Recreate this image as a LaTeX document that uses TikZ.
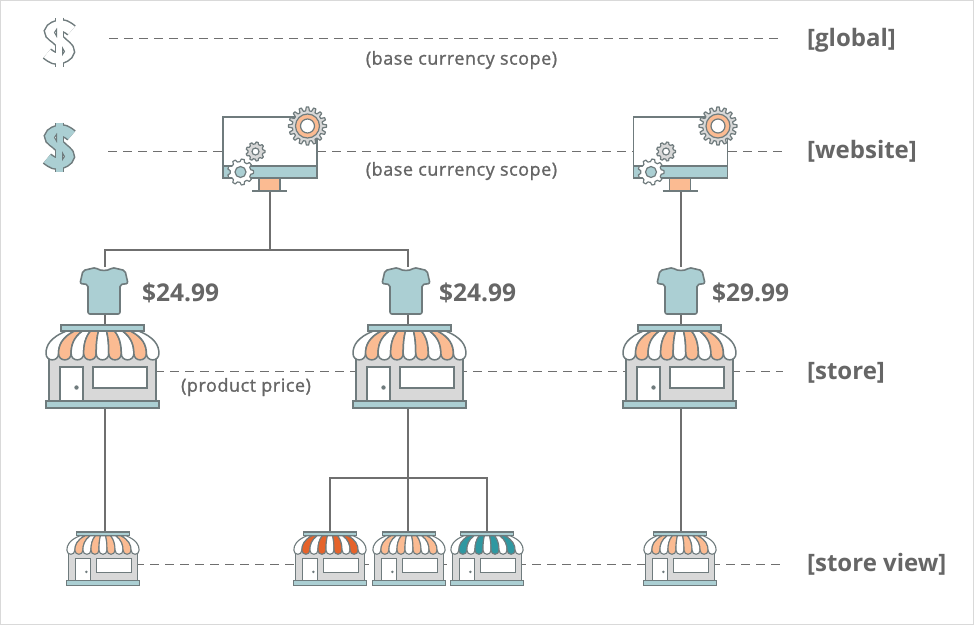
\documentclass[tikz,border=0pt]{standalone}
\usepackage{fontspec}
\setmainfont{Open Sans}
\newfontfamily\notefont[LetterSpace=3,FakeBold=1.2]{Open Sans}
\usetikzlibrary{positioning,calc}

\definecolor{linegray}{HTML}{6F6F6F}
\definecolor{iconline}{HTML}{6F7B7D}
\definecolor{textgray}{HTML}{666666}
\definecolor{tealpale}{HTML}{ABCFD3}
\definecolor{peach}{HTML}{FBBB92}
\definecolor{rust}{HTML}{E5632B}
\definecolor{teal}{HTML}{2F98A1}
\definecolor{wallgray}{HTML}{D8D8D8}

\tikzset{
  wire/.style={draw=linegray, line width=1.3pt},
  dashwire/.style={draw=linegray, line width=1pt, dash pattern=on 9pt off 6pt},
  holder/.style={inner sep=0pt, outer sep=0pt},
  levellabel/.style={font=\fontsize{24}{26}\selectfont\bfseries, text=textgray, anchor=west, inner sep=0pt},
  pricelabel/.style={font=\fontsize{24.5}{28}\selectfont\bfseries, text=textgray, anchor=west, inner sep=0pt},
  notelabel/.style={font=\fontsize{18}{21}\notefont, text=textgray, inner sep=0pt},
  pics/store/.style={code={
    \draw[fill=wallgray, draw=iconline] (-53.5,-12) rectangle (53.5,36);
    \draw[fill=white, draw=iconline] (-42.5,0.5) rectangle (-19.5,36);
    \fill[iconline] (-26,21) circle (2.2);
    \draw[fill=white, draw=iconline] (-9.5,0.5) rectangle (44.5,21.5);
    \draw[fill=tealpale, draw=iconline] (-56.5,34.5) rectangle (56.5,41.5);
    \draw[fill=tealpale, draw=iconline] (-41.5,-41.5) rectangle (41.5,-35.5);
    \foreach \i in {0,...,8}{
      \ifodd\i\def\stripe{#1}\else\def\stripe{white}\fi
      \pgfmathsetmacro{\ta}{-36+8*\i}
      \pgfmathsetmacro{\tb}{-36+8*(\i+1)}
      \pgfmathsetmacro{\ba}{-56.5+12.55*\i}
      \pgfmathsetmacro{\bb}{-56.5+12.55*(\i+1)}
      \draw[fill=\stripe, draw=iconline, line join=round]
        (\ta,-35.5) .. controls ({\ta+.8*(\ba-\ta)},-29) and (\ba,-21) .. (\ba,-13)
        .. controls (\ba,-4.5) and (\bb,-4.5) .. (\bb,-13)
        .. controls (\bb,-21) and ({\tb+.8*(\bb-\tb)},-29) .. (\tb,-35.5) -- cycle;
    }
  }},
  pics/shirt/.style={code={
    \draw[fill=tealpale, draw=iconline, line width=1.6pt, line join=round, rounded corners=2pt]
      (-8,-23) .. controls (-4,-19.5) and (4,-19.5) .. (8,-23) -- (21,-20) -- (24,-7)
      -- (16,-6) -- (16,23.5) -- (-16,23.5) -- (-16,-6) -- (-24,-7) -- (-21,-20) -- cycle;
  }},
  pics/gear/.style n args={3}{code={
    \pgfmathsetmacro{\gs}{360/#1}
    \draw[fill=#2, draw=iconline, line width=1.2pt, line join=round] (-.32*\gs:.8*#3)
      \foreach \a in {0,\gs,...,359.9}{
        -- ({\a-.32*\gs}:{.8*#3}) -- ({\a-.16*\gs}:#3) -- ({\a+.16*\gs}:#3) -- ({\a+.32*\gs}:{.8*#3})
      } -- cycle;
  }},
  pics/monitor/.style={code={
    \draw[fill=peach, draw=iconline, line width=1.5pt] (-11,24) rectangle (10,37);
    \draw[draw=iconline, line width=1.5pt] (-18,37) -- (17,37);
    \draw[fill=white, draw=iconline, line width=1.5pt] (-47,-37) rectangle (47,24);
    \draw[fill=tealpale, draw=iconline, line width=1.5pt] (-47,12) rectangle (47,24);
    \pic at (37.5,-28) {gear={16}{wallgray}{19}};
    \draw[fill=peach, draw=iconline, line width=1.2pt] (37.5,-28) circle (12);
    \draw[fill=white, draw=iconline, line width=1.2pt] (37.5,-28) circle (7);
    \pic at (-14.5,-2.5) {gear={9}{wallgray}{9.5}};
    \draw[fill=white, draw=iconline, line width=1.2pt] (-14.5,-2.5) circle (3.5);
    \pic at (-29.5,18) {gear={9}{white}{13}};
    \draw[fill=tealpale, draw=iconline, line width=1.2pt] (-29.5,18) circle (5.5);
  }},
  pics/dollar/.style={code={
    \foreach \w/\c in {13/iconline,10/#1}{
      \draw[draw=\c, line width=\w pt] plot[smooth, tension=.75] coordinates
        {(12,-11.5) (2,-16.5) (-9,-10.5) (0,-1) (9,9.5) (-2,16.5) (-12.5,11.5)};
      \draw[draw=\c, line width=.65*\w pt] (0,-24.5) -- (0,24.5);
    }
    \draw[fill=white, draw=iconline, line width=1pt] (-5,-9.5) -- (-3,-12.5) -- (-3,-6) -- cycle;
    \draw[fill=white, draw=iconline, line width=1pt] (5,9.5) -- (3,12.5) -- (3,6) -- cycle;
  }}
}

\begin{document}
\begin{tikzpicture}[x=1pt, y=-1pt]
  \useasboundingbox (0,0) rectangle (974,625);
  \fill[white] (0,0) rectangle (974,625);
  \draw[gray!30, line width=1pt] (.5,.5) rectangle (973.5,624.5);

  % holders for the icons
  \node[holder, minimum width=94pt, minimum height=74pt] (monA) at (270,154) {};
  \node[holder, minimum width=94pt, minimum height=74pt] (monB) at (681,154) {};
  \node[holder, minimum width=48pt, minimum height=47pt] (shirtA) at (105,290.5) {};
  \node[holder, minimum width=48pt, minimum height=47pt] (shirtB) at (408,290.5) {};
  \node[holder, minimum width=48pt, minimum height=47pt] (shirtC) at (681,290.5) {};
  \node[holder, minimum width=100pt, minimum height=83pt] (storeA) at (105,366.5) {};
  \node[holder, minimum width=100pt, minimum height=83pt] (storeB) at (408,366.5) {};
  \node[holder, minimum width=100pt, minimum height=83pt] (storeC) at (681,366.5) {};
  \node[holder, minimum width=60pt, minimum height=53pt] (viewA) at (105,558.5) {};
  \node[holder, minimum width=60pt, minimum height=53pt] (viewB) at (330,558.5) {};
  \node[holder, minimum width=60pt, minimum height=53pt] (viewC) at (408,558.5) {};
  \node[holder, minimum width=60pt, minimum height=53pt] (viewD) at (487,558.5) {};
  \node[holder, minimum width=60pt, minimum height=53pt] (viewE) at (681,558.5) {};

  \node[levellabel] (global) at (807,40) {[global]};
  \node[levellabel] (website) at (807,151) {[website]};
  \node[levellabel] (store) at (807,373) {[store]};
  \node[levellabel] (view) at (807,564) {[store view]};

  \coordinate (busA) at (270,250);
  \coordinate (busB) at (408,478);
  \coordinate (rowGlobal) at (109,38);
  \coordinate (endGlobal) at (783,38);
  \coordinate (rowWeb) at (108,151);
  \coordinate (endWeb) at (783,151);
  \coordinate (rowStore) at (783,371.5);
  \coordinate (rowView) at (783,564);

  % tree
  \draw[wire] (monA.south) -- (busA);
  \draw[wire] (shirtA.north) |- (busA) -| (shirtB.north);
  \draw[wire] (shirtA) -- (storeA);
  \draw[wire] (shirtB) -- (storeB);
  \draw[wire] (monB.south) -- (shirtC.north);
  \draw[wire] (shirtC) -- (storeC);
  \draw[wire] (storeA) -- (viewA);
  \draw[wire] (storeB) -- (viewC);
  \draw[wire] (storeC) -- (viewE);
  \draw[wire] (viewB.north) |- (busB) -| (viewD.north);

  % levels
  \draw[dashwire] (rowGlobal) -- (endGlobal);
  \draw[dashwire] (rowWeb) -- (monA.west |- rowWeb);
  \draw[dashwire] (monA.east |- rowWeb) -- (monB.west |- rowWeb);
  \draw[dashwire] (monB.east |- rowWeb) -- (endWeb);
  \draw[dashwire] (storeA.east |- rowStore) -- (storeB.west |- rowStore);
  \draw[dashwire] (storeB.east |- rowStore) -- (storeC.west |- rowStore);
  \draw[dashwire] (storeC.east |- rowStore) -- (rowStore);
  \draw[dashwire] (viewA.east |- rowView) -- (viewB.west |- rowView);
  \draw[dashwire] (viewB.east |- rowView) -- (viewC.west |- rowView);
  \draw[dashwire] (viewC.east |- rowView) -- (viewD.west |- rowView);
  \draw[dashwire] (viewD.east |- rowView) -- (viewE.west |- rowView);
  \draw[dashwire] (viewE.east |- rowView) -- (rowView);

  % icons
  \pic at (59.5,42) {dollar=white};
  \pic at (59.5,147) {dollar=tealpale};
  \pic at (270,154) {monitor};
  \pic at (680.5,154) {monitor};
  \pic at (104,290.5) {shirt};
  \pic at (406,290.5) {shirt};
  \pic at (681,290.5) {shirt};
  \pic[line width=1.5pt] at (102.5,366.5) {store=peach};
  \pic[line width=1.5pt] at (409.5,366.5) {store=peach};
  \pic[line width=1.5pt] at (679.5,366.5) {store=peach};
  \pic[scale=.64, line width=1.1pt] at (103,558.5) {store=peach};
  \pic[scale=.64, line width=1.1pt] at (330,558.5) {store=rust};
  \pic[scale=.64, line width=1.1pt] at (409,558.5) {store=peach};
  \pic[scale=.64, line width=1.1pt] at (487,558.5) {store=teal};
  \pic[scale=.64, line width=1.1pt] at (680,558.5) {store=peach};

  \node[pricelabel] (priceA) at (142,293) {\$24.99};
  \node[pricelabel] (priceB) at (439,293) {\$24.99};
  \node[pricelabel] (priceC) at (712,293) {\$29.99};
  \node[notelabel] (scopeA) at (461.5,60) {(base currency scope)};
  \node[notelabel] (scopeB) at (461.5,171) {(base currency scope)};
  \node[notelabel] (priceNote) at (246,387) {(product price)};
\end{tikzpicture}
\end{document}
